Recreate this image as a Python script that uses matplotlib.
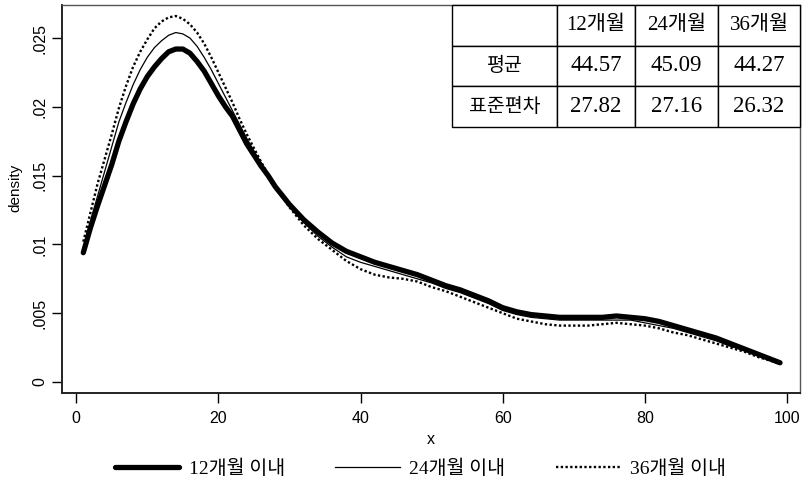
import numpy as np
import matplotlib
matplotlib.use("Agg")
import matplotlib.pyplot as plt

# Density curves
x = [1, 2, 3, 4, 5, 6, 7, 8, 9, 10, 11, 12, 13, 14, 15, 16, 17, 18, 19, 20,
     21, 22, 23, 24, 25, 26, 27, 28,
     30, 32, 34, 36, 38, 40, 42, 44, 46, 48, 50, 52, 54, 56, 58, 60, 62, 64,
     66, 68, 70, 72, 74, 76, 78, 80, 82, 84, 86, 88, 90, 92, 94, 96, 98, 99]

d12 = [0.0094, 0.0112, 0.0128, 0.0143, 0.0158, 0.0175, 0.0189, 0.0202, 0.0213, 0.0222,
       0.0229, 0.0235, 0.0240, 0.0242, 0.0242, 0.0239, 0.0233, 0.0226, 0.0217, 0.0208,
       0.0200, 0.0193, 0.0183, 0.0173, 0.0165, 0.0157, 0.0150, 0.0142,
       0.0129, 0.0118, 0.0109, 0.0101, 0.0095, 0.0091, 0.0087, 0.0084, 0.0081, 0.0078,
       0.0074, 0.0070, 0.0067, 0.0063, 0.0059, 0.0054, 0.0051, 0.0049, 0.0048, 0.0047,
       0.0047, 0.0047, 0.0047, 0.0048, 0.0047, 0.0046, 0.0044, 0.0041, 0.0038, 0.0035,
       0.0032, 0.0028, 0.0024, 0.0020, 0.0016, 0.0014]

d24 = [0.0097, 0.0117, 0.0135, 0.0153, 0.0171, 0.0189, 0.0203, 0.0216, 0.0227, 0.0236,
       0.0243, 0.0248, 0.0252, 0.0254, 0.0253, 0.0250, 0.0244, 0.0236, 0.0227, 0.0217,
       0.0207, 0.0197, 0.0187, 0.0177, 0.0168, 0.0159, 0.0150, 0.0142,
       0.0128, 0.0116, 0.0106, 0.0098, 0.0091, 0.0087, 0.0084, 0.0081, 0.0078, 0.0075,
       0.0072, 0.0068, 0.0065, 0.0061, 0.0057, 0.0052, 0.0049, 0.0047, 0.0046, 0.0045,
       0.0045, 0.0045, 0.0045, 0.0045, 0.0045, 0.0043, 0.0041, 0.0039, 0.0036, 0.0033,
       0.0030, 0.0026, 0.0023, 0.0019, 0.0015, 0.0013]

d36 = [0.0102, 0.0123, 0.0144, 0.0162, 0.0180, 0.0199, 0.0215, 0.0229, 0.0240, 0.0249,
       0.0257, 0.0262, 0.0265, 0.0266, 0.0264, 0.0260, 0.0254, 0.0246, 0.0236, 0.0225,
       0.0214, 0.0203, 0.0191, 0.0180, 0.0170, 0.0160, 0.0151, 0.0142,
       0.0127, 0.0114, 0.0104, 0.0096, 0.0088, 0.0082, 0.0078, 0.0076, 0.0075, 0.0073,
       0.0069, 0.0066, 0.0062, 0.0058, 0.0054, 0.0050, 0.0046, 0.0044, 0.0042, 0.0041,
       0.0041, 0.0041, 0.0042, 0.0043, 0.0042, 0.0041, 0.0039, 0.0036, 0.0034, 0.0031,
       0.0028, 0.0025, 0.0022, 0.0018, 0.0015, 0.0013]

labels = ["12개월 이내", "24개월 이내", "36개월 이내"]

# Summary table
col_labels = ["", "12개월", "24개월", "36개월"]
row_mean = ["평균", "44.57", "45.09", "44.27"]
row_sd = ["표준편차", "27.82", "27.16", "26.32"]

yticks = [0, 0.005, 0.01, 0.015, 0.02, 0.025]
ytick_labels = ["0", ".005", ".01", ".015", ".02", ".025"]
xticks = [0, 20, 40, 60, 80, 100]

mixed = ["Liberation Serif", "Noto Sans CJK KR"]
plt.rcParams["font.family"] = ["Liberation Sans", "Noto Sans CJK KR"]

fig = plt.figure(figsize=(8.08, 4.82), dpi=100)
ax = fig.add_axes([0.0767, 0.1846, 0.9133, 0.805])

l1, = ax.plot(x, d12, color="black", lw=3.8, solid_capstyle="round", solid_joinstyle="round")
l2, = ax.plot(x, d24, color="black", lw=0.9)
l3, = ax.plot(x, d36, color="black", lw=1.7, linestyle=(0, (1, 1)))

ax.set_xlim(-2, 101.8)
ax.set_ylim(-0.0008, 0.0274)
ax.set_xticks(xticks)
ax.set_yticks(yticks)
ax.set_yticklabels(ytick_labels, rotation=90, va="center")
ax.tick_params(labelsize=11.5, length=7, width=1, direction="out", colors="black")
ax.tick_params(axis="x", pad=6)
ax.set_xlabel("x", fontsize=11.5, labelpad=4)
ax.set_ylabel("density", fontsize=11, labelpad=4)
ax.yaxis.set_label_coords(-0.053, 0.53)

for side in ["left", "bottom"]:
    ax.spines[side].set_linewidth(1.4)
    ax.spines[side].set_color("#222222")
for side in ["top", "right"]:
    ax.spines[side].set_linewidth(1.0)
    ax.spines[side].set_color("#555555")

# table inset, top right
tab = ax.table(cellText=[row_mean, row_sd], colLabels=col_labels,
               cellLoc="center", colWidths=[0.1425, 0.106, 0.1125, 0.111],
               bbox=[0.5285, 0.686, 0.4715, 0.314])
tab.auto_set_font_size(False)
for (r, c), cell in tab.get_celld().items():
    cell.set_linewidth(1.0)
    cell.set_edgecolor("black")
    cell.set_facecolor("white")
    t = cell.get_text()
    t.set_fontfamily(mixed)
    if r == 0:
        t.set_fontsize(15)
    elif c == 0:
        t.set_fontsize(14)
    else:
        t.set_fontsize(16.5)
tab.set_zorder(5)

leg = fig.legend([l1, l2, l3], labels, loc="center", bbox_to_anchor=(0.52, 0.028),
                 ncol=3, frameon=False, handlelength=3.3, columnspacing=2.6,
                 handletextpad=0.5, prop={"family": mixed, "size": 14})

fig.savefig("out.png", dpi=100)
